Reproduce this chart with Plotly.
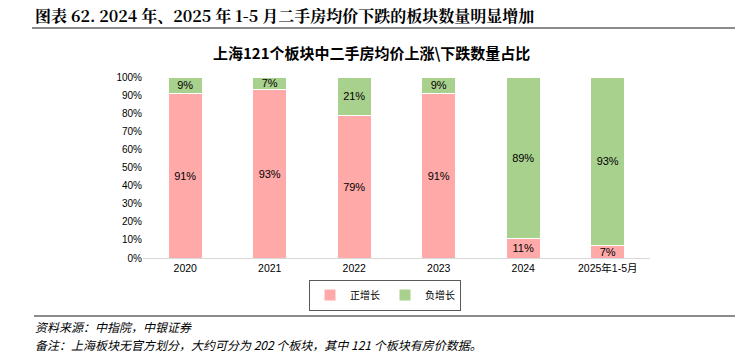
import plotly.graph_objects as go

categories = ["2020", "2021", "2022", "2023", "2024", "2025年1-5月"]
pos_growth = [91, 93, 79, 91, 11, 7]
neg_growth = [9, 7, 21, 9, 89, 93]
y_ticks = list(range(0, 101, 10))
y_tick_labels = [f"{v}%" for v in y_ticks]

L, R, T, B = 143, 650, 77, 258
W, H = 739, 352

def px(x):
    return (x - L) / (R - L)

def py(y):
    return (B - y) / (B - T)

font_cn = "Noto Sans CJK SC, sans-serif"

fig = go.Figure()
fig.add_trace(go.Bar(
    x=categories, y=pos_growth, name="正增长",
    marker=dict(color="#FFA9A9", line=dict(color="#FFFFFF", width=1)),
    text=[f"{v}%" for v in pos_growth], textposition="inside",
    insidetextanchor="middle", textangle=0, constraintext="none",
    textfont=dict(color="#000000", size=11, family="Liberation Sans, Arial"),
))
fig.add_trace(go.Bar(
    x=categories, y=neg_growth, name="负增长",
    marker=dict(color="#A9D18E", line=dict(color="#FFFFFF", width=1)),
    text=[f"{v}%" for v in neg_growth], textposition="inside",
    insidetextanchor="middle", textangle=0, constraintext="none",
    textfont=dict(color="#000000", size=11, family="Liberation Sans, Arial"),
))

fig.update_layout(
    barmode="stack", bargap=0.6,
    width=W, height=H,
    margin=dict(l=L, r=W - R, t=T, b=H - B, autoexpand=False),
    paper_bgcolor="white", plot_bgcolor="white",
    font=dict(family=font_cn, size=10, color="#000000"),
    xaxis=dict(showgrid=False, showline=True, linecolor="#D9D9D9", linewidth=1,
               ticks="", tickfont=dict(size=10.5, family="Liberation Sans, " + font_cn)),
    yaxis=dict(range=[0, 100], tickvals=y_ticks, ticktext=y_tick_labels,
               showgrid=False, showline=False, zeroline=False, ticks="",
               tickfont=dict(size=10, family="Liberation Sans, Arial")),
    legend=dict(orientation="h", x=px(385), xanchor="center", y=py(295), yanchor="middle",
                bordercolor="#595959", borderwidth=1, font=dict(size=10, family=font_cn),
                itemwidth=30, traceorder="normal", tracegroupgap=0),
    showlegend=True,
)

shapes = [
    dict(type="line", xref="paper", yref="paper", x0=px(32), x1=px(735), y0=py(28), y1=py(28),
         line=dict(color="#8C8C8C", width=2)),
    dict(type="line", xref="paper", yref="paper", x0=px(34), x1=px(735), y0=py(316), y1=py(316),
         line=dict(color="#8C8C8C", width=2)),
]
fig.update_layout(shapes=shapes)

annotations = [
    dict(text="<b>图表 62. 2024 年、2025 年 1-5 月二手房均价下跌的板块数量明显增加</b>",
         x=px(33), y=py(15), xref="paper", yref="paper", xanchor="left", yanchor="middle",
         showarrow=False, font=dict(size=16, family="Noto Serif CJK SC, " + font_cn, color="#000000")),
    dict(text="<b>上海121个板块中二手房均价上涨\\下跌数量占比</b>",
         x=px(371), y=py(52), xref="paper", yref="paper", xanchor="center", yanchor="middle",
         showarrow=False, font=dict(size=15, family=font_cn, color="#000000")),
    dict(text="<i>资料来源：中指院，中银证券</i>",
         x=px(33), y=py(326), xref="paper", yref="paper", xanchor="left", yanchor="middle",
         showarrow=False, font=dict(size=12, family=font_cn, color="#000000")),
    dict(text="<i>备注：上海板块无官方划分，大约可分为 202 个板块，其中 121 个板块有房价数据。</i>",
         x=px(33), y=py(344), xref="paper", yref="paper", xanchor="left", yanchor="middle",
         showarrow=False, font=dict(size=12, family=font_cn, color="#000000")),
]
fig.update_layout(annotations=annotations)

fig.write_html("out.html")
